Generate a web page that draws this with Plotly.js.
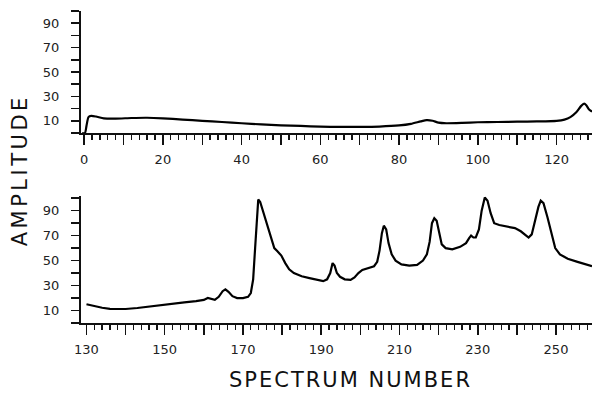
<!DOCTYPE html>
<html>
<head>
<meta charset="utf-8">
<script src="https://cdn.plot.ly/plotly-3.0.1.min.js"></script>
<style>html,body{margin:0;padding:0;background:#fff;}#chart{width:593px;height:393px;}</style>
</head>
<body>
<div id="chart"></div>
<script>
// Upper panel: spectrum numbers 0-128
var topX = [-0.5, 0.2, 0.6, 1.1, 1.8, 3, 5, 8, 12, 16, 20, 25, 30, 35, 40, 45, 50, 55, 60, 65, 70, 75, 80, 83, 85.5, 87, 88.5, 90, 92, 96, 100, 105, 110, 115, 120, 122, 123.5, 125, 126.2, 127, 127.6, 128.2, 129];
var topY = [0, 0, 6, 13, 14, 13.5, 12, 11.8, 12.3, 12.5, 12, 11, 10, 9, 8, 7, 6.3, 5.8, 5.2, 5, 5, 5.3, 6.2, 7.5, 9.5, 10.5, 10, 8.5, 8, 8.3, 8.8, 9, 9.3, 9.5, 10, 11, 13, 17, 22, 24, 22.5, 19.5, 17.5];

// Lower panel: spectrum numbers 130-259
var botX = [130, 132, 134, 136, 138, 140, 143, 146, 149, 152, 155, 158, 160, 161, 162, 162.8, 163.8, 164.8, 165.5, 166.3, 167.3, 168.5, 170, 171.3, 172, 172.6, 173.1, 173.5, 173.9, 174.4, 175.3, 176.3, 177.3, 178, 178.8, 179.8, 180.8, 181.8, 183, 185, 187, 189, 190.5, 191.5, 192.3, 192.9, 193.4, 194, 194.8, 196, 197.5, 198.5, 199.5, 200.5, 202, 203.5, 204.3, 204.9, 205.5, 206, 206.6, 207.2, 208, 209, 210.5, 212.5, 214.5, 216, 217, 217.7, 218.3, 218.9, 219.5, 220.2, 220.8, 221.8, 223.5, 225.5, 227, 227.8, 228.3, 228.9, 229.5, 230.3, 231, 231.8, 232.5, 233.3, 234.2, 235.5, 237.5, 239.5, 241, 242.3, 243, 243.8, 244.6, 245.5, 246.1, 246.8, 247.8, 248.8, 249.8, 251, 253, 255.5, 258, 259.2];
var botY = [15, 13.5, 12.2, 11.3, 11, 11.2, 12, 13.2, 14.5, 15.8, 16.5, 17.5, 18.5, 20, 19.5, 18.5, 21, 25.5, 27, 25, 21.5, 20, 20, 21, 24, 35, 60, 85, 99, 97, 88, 78, 67, 60, 57.5, 54, 48, 43, 40, 37.5, 36, 34.5, 33.5, 35, 40, 48, 46, 40, 37, 35, 34.5, 36.5, 40, 42.5, 44, 45.5, 49, 58, 72, 78, 75, 64, 55, 50, 47, 46, 46.5, 50, 55, 65, 80, 84, 82, 72, 63, 60, 59, 61, 64, 68, 70, 68.5, 68.5, 75, 90, 100.5, 98, 88, 80, 78.5, 77.5, 76, 73.5, 70, 68.5, 71, 82, 93, 98, 96, 85, 72, 60, 55, 51.5, 49, 46.5, 45.5];

// Tick values and labels
var topTickVals = [0, 10, 20, 30, 40, 50, 60, 70, 80, 90, 100, 110, 120];
var topTickText = ['0', '', '20', '', '40', '', '60', '', '80', '', '100', '', '120'];
var botTickVals = [130, 140, 150, 160, 170, 180, 190, 200, 210, 220, 230, 240, 250];
var botTickText = ['130', '', '150', '', '170', '', '190', '', '210', '', '230', '', '250'];
var yTickVals = [0, 10, 20, 30, 40, 50, 60, 70, 80, 90, 100];
var yTickText = ['', '10', '', '30', '', '50', '', '70', '', '90', ''];

var tickFont = {family: 'DejaVu Sans, sans-serif', size: 13, color: '#222'};
var minorX = {dtick: 2, ticklen: 5, tickwidth: 1.3, tickcolor: '#111', ticks: 'outside', showgrid: false};

function xAxis(vals, text, range, anchor) {
  return {
    range: range, anchor: anchor, domain: [0, 1],
    tickmode: 'array', tickvals: vals, ticktext: text,
    ticks: 'outside', ticklen: 10, tickwidth: 1.5, tickcolor: '#111',
    ticklabelstandoff: 3,
    minor: Object.assign({tick0: vals[0]}, minorX),
    showline: true, linecolor: '#111', linewidth: 2,
    showgrid: false, zeroline: false, tickfont: tickFont
  };
}
function yAxis(domain, range, anchor) {
  return {
    domain: domain, range: range, anchor: anchor,
    tickmode: 'array', tickvals: yTickVals, ticktext: yTickText,
    ticks: 'outside', ticklen: 8, tickwidth: 1.5, tickcolor: '#111',
    ticklabelstandoff: 9,
    showline: true, linecolor: '#111', linewidth: 2,
    showgrid: false, zeroline: false, tickfont: tickFont
  };
}

var traces = [
  {x: topX, y: topY, xaxis: 'x', yaxis: 'y', type: 'scatter', mode: 'lines',
   line: {color: '#000', width: 2.2, shape: 'spline', smoothing: 0.6}, hoverinfo: 'none'},
  {x: botX, y: botY, xaxis: 'x2', yaxis: 'y2', type: 'scatter', mode: 'lines',
   line: {color: '#000', width: 2.2}, hoverinfo: 'none'}
];

var layout = {
  width: 593, height: 393,
  margin: {l: 81, r: 1, t: 11, b: 70},
  paper_bgcolor: '#fff', plot_bgcolor: '#fff',
  showlegend: false,
  xaxis: xAxis(topTickVals, topTickText, [-0.8, 129], 'y'),
  yaxis: yAxis([0.609, 1], [0, 100], 'x'),
  xaxis2: xAxis(botTickVals, botTickText, [128.6, 259.2], 'y2'),
  yaxis2: yAxis([0, 0.406], [0, 101.5], 'x2'),
  annotations: [
    {text: "<span style='letter-spacing:3.5px'>AMPLITUDE</span>", xref: 'paper', yref: 'paper',
     x: -0.119, y: 0.49, xanchor: 'center', yanchor: 'middle', showarrow: false, textangle: -90,
     font: {family: 'DejaVu Sans, sans-serif', size: 21, color: '#111'}},
    {text: "<span style='letter-spacing:2px'>SPECTRUM NUMBER</span>", xref: 'paper', yref: 'paper',
     x: 0.528, y: -0.183, xanchor: 'center', yanchor: 'middle', showarrow: false,
     font: {family: 'DejaVu Sans, sans-serif', size: 21, color: '#111'}}
  ]
};

Plotly.newPlot('chart', traces, layout, {staticPlot: true, displayModeBar: false});
</script>
</body>
</html>
